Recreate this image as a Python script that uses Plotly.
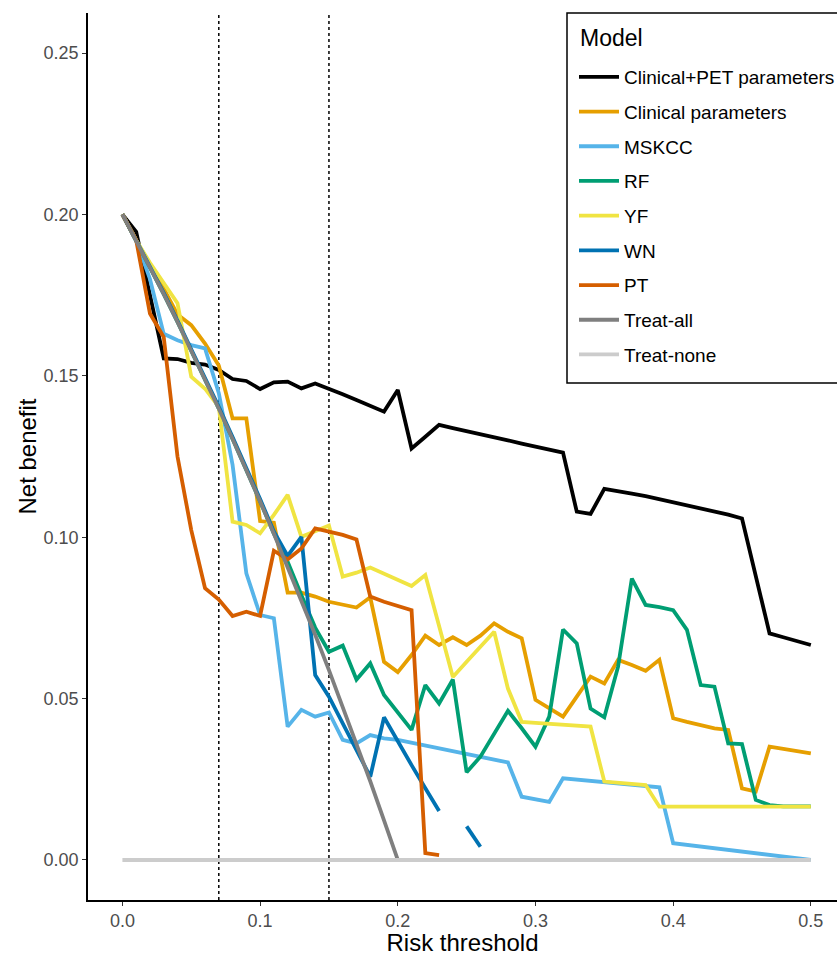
import plotly.graph_objects as go

thresholds = [0.00, 0.01, 0.02, 0.03, 0.04, 0.05, 0.06, 0.07, 0.08, 0.09,
              0.10, 0.11, 0.12, 0.13, 0.14, 0.15, 0.16, 0.17, 0.18, 0.19,
              0.20, 0.21, 0.22, 0.23, 0.24, 0.25, 0.26, 0.27, 0.28, 0.29,
              0.30, 0.31, 0.32, 0.33, 0.34, 0.35, 0.36, 0.37, 0.38, 0.39,
              0.40, 0.41, 0.42, 0.43, 0.44, 0.45, 0.46, 0.47, 0.48, 0.49, 0.50]

clinical_pet = [0.200, 0.1946, 0.175, 0.1554, 0.1552, 0.154, 0.1535, 0.1518, 0.149, 0.1484,
                0.1459, 0.148, 0.1482, 0.1461, 0.1476, 0.1461, 0.1443, 0.1425, 0.1407, 0.1389,
                0.1456, 0.1275, 0.1311, 0.1348, 0.1338, 0.1329, 0.1319, 0.131, 0.130, 0.129,
                0.128, 0.1271, 0.1262, 0.1079, 0.1072, 0.115, 0.1141, 0.1135, 0.1127, 0.1118,
                0.1108, 0.1099, 0.1089, 0.1079, 0.107, 0.1058, 0.088, 0.0702, 0.069, 0.0678, 0.0666]

clinical = [0.200, 0.192, 0.184, 0.177, 0.169, 0.1657, 0.160, 0.1532, 0.1368, 0.1368,
            0.1050, 0.1045, 0.0828, 0.0828, 0.0816, 0.080, 0.079, 0.0782, 0.0814, 0.0614,
            0.0582, 0.0635, 0.0695, 0.0666, 0.069, 0.0666, 0.0695, 0.0733, 0.0707, 0.0687,
            0.0496, 0.047, 0.0444, 0.0506, 0.0568, 0.0547, 0.062, 0.0604, 0.0586, 0.062,
            0.0439, 0.0428, 0.0418, 0.0408, 0.0403, 0.0222, 0.0212, 0.0351, 0.0344, 0.0337, 0.033]

mskcc = [0.200, 0.1919, 0.180, 0.163, 0.161, 0.1595, 0.1585, 0.1446, 0.1224, 0.0888,
         0.0759, 0.0749, 0.0413, 0.0465, 0.0444, 0.0457, 0.0372, 0.0361, 0.0387, 0.0377,
         0.0372, 0.0363, 0.0354, 0.0346, 0.0337, 0.0328, 0.0319, 0.031, 0.0302, 0.0196,
         0.0188, 0.018, 0.0253, 0.0249, 0.0245, 0.0241, 0.0237, 0.0233, 0.0229, 0.0225,
         0.0052, 0.0047, 0.0042, 0.0036, 0.0031, 0.0026, 0.0021, 0.0016, 0.001, 0.0005, 0.0]

rf = [0.200, 0.1919, 0.1837, 0.1753, 0.1667, 0.1579, 0.1489, 0.1398, 0.1304, 0.1209,
      0.1111, 0.1011, 0.0924, 0.082, 0.072, 0.0645, 0.0664, 0.0559, 0.0609, 0.0511,
      0.0456, 0.0403, 0.0542, 0.0485, 0.0559, 0.0272, 0.032, 0.039, 0.0462, 0.0408,
      0.0351, 0.0444, 0.0714, 0.0671, 0.0469, 0.0442, 0.0599, 0.0872, 0.079, 0.0783,
      0.0774, 0.0713, 0.0542, 0.0537, 0.0361, 0.0359, 0.0186, 0.017, 0.0166, 0.0166, 0.0166]

yf = [0.200, 0.192, 0.185, 0.179, 0.1725, 0.1497, 0.146, 0.1404, 0.1048, 0.1038,
      0.1012, 0.1069, 0.1131, 0.1001, 0.1017, 0.1036, 0.0878, 0.089, 0.0906, 0.0888,
      0.087, 0.0849, 0.0883, 0.0725, 0.0567, 0.0614, 0.066, 0.0707, 0.0531, 0.0428,
      0.0425, 0.0422, 0.0419, 0.0416, 0.0413, 0.0243, 0.0239, 0.0236, 0.0232, 0.0165,
      0.0165, 0.0165, 0.0165, 0.0165, 0.0165, 0.0165, 0.0165, 0.0165, 0.0165, 0.0165, 0.0165]

wn = [0.200, 0.1921, 0.1840, 0.1757, 0.1671, 0.1584, 0.1494, 0.1404, 0.1310, 0.1216,
      0.1118, 0.1018, 0.0942, 0.1001, 0.0573, 0.0506, 0.0423, 0.0336, 0.0258, 0.0442,
      0.0366, 0.0294, 0.0222, 0.0152, None, 0.0104, 0.0041, None, None, None,
      None, None, None, None, None, None, None, None, None, None,
      None, None, None, None, None, None, None, None, None, None, None]

pt = [0.200, 0.192, 0.1693, 0.162, 0.125, 0.1022, 0.0842, 0.0807, 0.0756, 0.0769,
      0.0756, 0.0958, 0.0931, 0.0965, 0.1027, 0.1017, 0.1007, 0.0993, 0.0816, 0.080,
      0.0787, 0.0774, 0.0021, 0.0015, None, None, None, None, None, None,
      None, None, None, None, None, None, None, None, None, None,
      None, None, None, None, None, None, None, None, None, None, None]

treat_all = [0.200, 0.1919, 0.1837, 0.1753, 0.1667, 0.1579, 0.1489, 0.1398, 0.1304, 0.1209,
             0.1111, 0.1011, 0.0909, 0.0805, 0.0698, 0.0588, 0.0476, 0.0361, 0.0244, 0.0123,
             0.0, None, None, None, None, None, None, None, None, None,
             None, None, None, None, None, None, None, None, None, None,
             None, None, None, None, None, None, None, None, None, None, None]

treat_none = [0.0] * 51

model_names = ["Clinical+PET parameters", "Clinical parameters", "MSKCC", "RF", "YF",
               "WN", "PT", "Treat-all", "Treat-none"]
series = [clinical_pet, clinical, mskcc, rf, yf, wn, pt, treat_all, treat_none]
colors = ["#000000", "#E69F00", "#56B4E9", "#009E73", "#F0E442",
          "#0072B2", "#D55E00", "#7F7F7F", "#CCCCCC"]

x_ticks = [0.0, 0.1, 0.2, 0.3, 0.4, 0.5]
x_ticklabels = ["0.0", "0.1", "0.2", "0.3", "0.4", "0.5"]
y_ticks = [0.00, 0.05, 0.10, 0.15, 0.20, 0.25]
y_ticklabels = ["0.00", "0.05", "0.10", "0.15", "0.20", "0.25"]
cutoffs = [0.07, 0.15]

FONT = "Liberation Sans, Arial, sans-serif"

# plot-area geometry in pixels (used only to place legend box / title)
L, R, T, B = 88, 837, 13, 900
def px_x(p):
    return (p - L) / (R - L)
def px_y(p):
    return (B - p) / (B - T)

fig = go.Figure()
for name, ys, col in zip(model_names, series, colors):
    fig.add_trace(go.Scatter(
        x=thresholds, y=ys, mode="lines", name=name,
        legendgroup=name,
        line=dict(color=col, width=3.8),
        connectgaps=False,
    ))

for c in cutoffs:
    fig.add_shape(type="line", xref="x", yref="paper", x0=c, x1=c, y0=0, y1=1,
                  line=dict(color="black", width=1.5, dash="dot"), layer="below")

# legend frame
fig.add_shape(type="rect", xref="paper", yref="paper",
              x0=px_x(567), x1=px_x(846), y0=px_y(383), y1=px_y(13),
              line=dict(color="black", width=1.5), fillcolor="white", layer="below")
fig.add_annotation(text="Model", xref="paper", yref="paper",
                   x=px_x(578), y=px_y(38), xanchor="left", yanchor="middle",
                   showarrow=False, font=dict(size=23, color="black", family=FONT))

fig.update_layout(
    width=837, height=956,
    margin=dict(l=L, r=0, t=T, b=956 - B, autoexpand=False),
    paper_bgcolor="white", plot_bgcolor="white",
    font=dict(family=FONT, color="black"),
    showlegend=True,
    legend=dict(
        x=px_x(574), y=px_y(58), xanchor="left", yanchor="top",
        borderwidth=0, bgcolor="rgba(0,0,0,0)",
        font=dict(size=19, color="black", family=FONT),
        traceorder="grouped", tracegroupgap=7,
        itemwidth=40,
    ),
    xaxis=dict(
        range=[-0.025, 0.519], tickvals=x_ticks, ticktext=x_ticklabels,
        showgrid=False, zeroline=False, showline=True, linecolor="black", linewidth=1.5,
        ticks="outside", ticklen=4, tickwidth=1.2, tickcolor="#333333",
        tickfont=dict(size=18, color="#4D4D4D", family=FONT),
        title=dict(text="Risk threshold", font=dict(size=24, color="black", family=FONT), standoff=6),
    ),
    yaxis=dict(
        range=[-0.0124, 0.2624], tickvals=y_ticks, ticktext=y_ticklabels,
        showgrid=False, zeroline=False, showline=True, linecolor="black", linewidth=1.5,
        ticks="outside", ticklen=4, tickwidth=1.2, tickcolor="#333333",
        tickfont=dict(size=18, color="#4D4D4D", family=FONT),
        title=dict(text="Net benefit", font=dict(size=24, color="black", family=FONT), standoff=0),
    ),
)

fig.write_html("out.html", config={"displayModeBar": False},
               post_script="document.body.style.margin='0';document.body.style.overflow='hidden';")
